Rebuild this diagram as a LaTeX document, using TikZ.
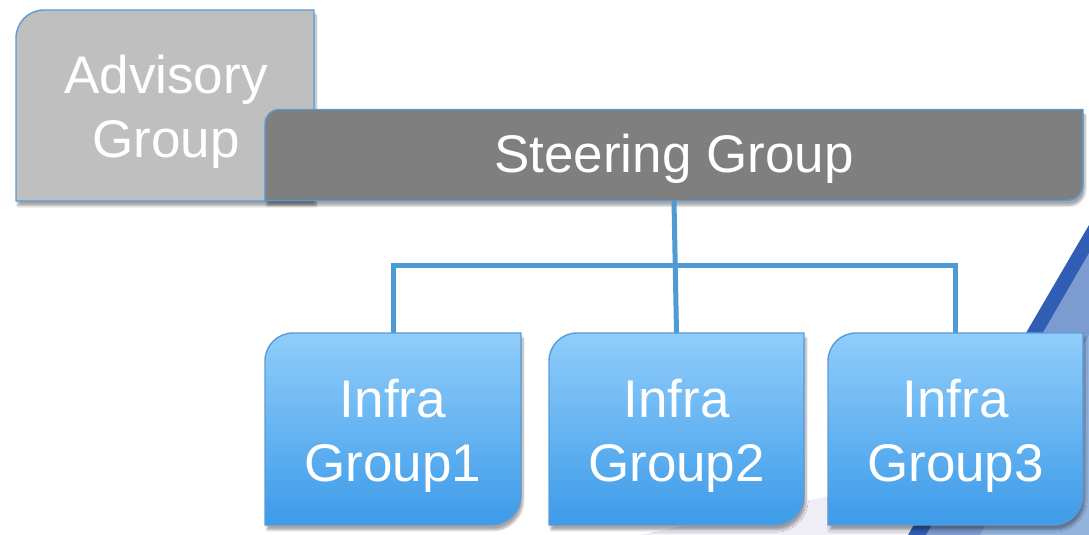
\documentclass[tikz,border=0pt]{standalone}
\usepackage{fontspec}
\setmainfont{Liberation Sans}
\usetikzlibrary{shadows.blur}
\definecolor{advfill}{HTML}{BFBFBF}
\definecolor{sgfill}{HTML}{7F7F7F}
\definecolor{edgeblue}{HTML}{5B9BD5}
\definecolor{linkblue}{HTML}{4E9AD3}
\definecolor{igtop}{HTML}{90CDFB}
\definecolor{igbot}{HTML}{3D9BE8}
\definecolor{tridark}{HTML}{2F5EB4}
\definecolor{trimid}{HTML}{7C9BD0}
\definecolor{trilight}{HTML}{93B3DE}
\definecolor{faint}{HTML}{EFEEF5}
\tikzset{
  shapebox/.style={minimum width=#1, inner sep=0pt, outer sep=0pt},
  outline/.style={draw=edgeblue, line width=1.4pt,
    blur shadow={shadow xshift=2pt, shadow yshift=-5pt, shadow blur steps=8, shadow opacity=35}},
  lbl/.style={text=white, align=center, inner sep=0pt, font=\fontsize{53}{64}\selectfont},
  link/.style={draw=linkblue, line width=5pt}
}
\begin{document}
\begin{tikzpicture}[x=1pt,y=1pt]
\useasboundingbox (0,0) rectangle (1089,535);
% background decoration
\fill[faint] (640,0) -- (835,40) -- (1000,120) -- (1089,160) -- (1089,0) -- cycle;
\fill[tridark] (1089,310) -- (908,0) -- (1089,0) -- cycle;
\fill[trimid] (1089,282) -- (926,0) -- (1089,0) -- cycle;
\fill[trilight] (1089,200) -- (980,0) -- (1089,0) -- cycle;
% shape nodes
\node[shapebox=298pt, minimum height=191pt] (adv) at (165,429.5) {};
\node[shapebox=818pt, minimum height=91pt] (sg) at (674,380) {};
\node[shapebox=256pt, minimum height=192pt] (ig1) at (393,106) {};
\node[shapebox=255pt, minimum height=192pt] (ig2) at (676.5,106) {};
\node[shapebox=255pt, minimum height=192pt] (ig3) at (955.5,106) {};
% advisory
\path[outline, fill=advfill] ([yshift=-28pt]adv.north west) arc[start angle=180, end angle=90, radius=28pt]
  -- (adv.north east) -- (adv.south east) -- (adv.south west) -- cycle;
\node[lbl] (advt) at (166,423) {Advisory\\Group};
% steering
\path[outline, fill=sgfill] ([yshift=-14pt]sg.north west) arc[start angle=180, end angle=90, radius=14pt]
  -- (sg.north east) -- ([yshift=16pt]sg.south east) arc[start angle=0, end angle=-90, radius=16pt]
  -- (sg.south west) -- cycle;
\node[lbl] (sgt) at (674,376) {Steering Group};
% infra boxes
\foreach \n in {ig1,ig2,ig3}{
  \path[outline, top color=igtop, bottom color=igbot] ([yshift=-28pt]\n.north west) arc[start angle=180, end angle=90, radius=28pt]
    -- (\n.north east) -- ([yshift=30pt]\n.south east) arc[start angle=0, end angle=-90, radius=30pt]
    -- (\n.south west) -- cycle;
}
\node[lbl] (ig1t) at (393,99) {Infra\\Group1};
\node[lbl] (ig2t) at (676.5,99) {Infra\\Group2};
\node[lbl] (ig3t) at (955.5,99) {Infra\\Group3};
% connectors
\coordinate (bar) at (675,269);
\draw[link] (sg.south) -- (ig2.north);
\draw[link] (ig1.north) |- (bar) -| (ig3.north);
\end{tikzpicture}
\end{document}
